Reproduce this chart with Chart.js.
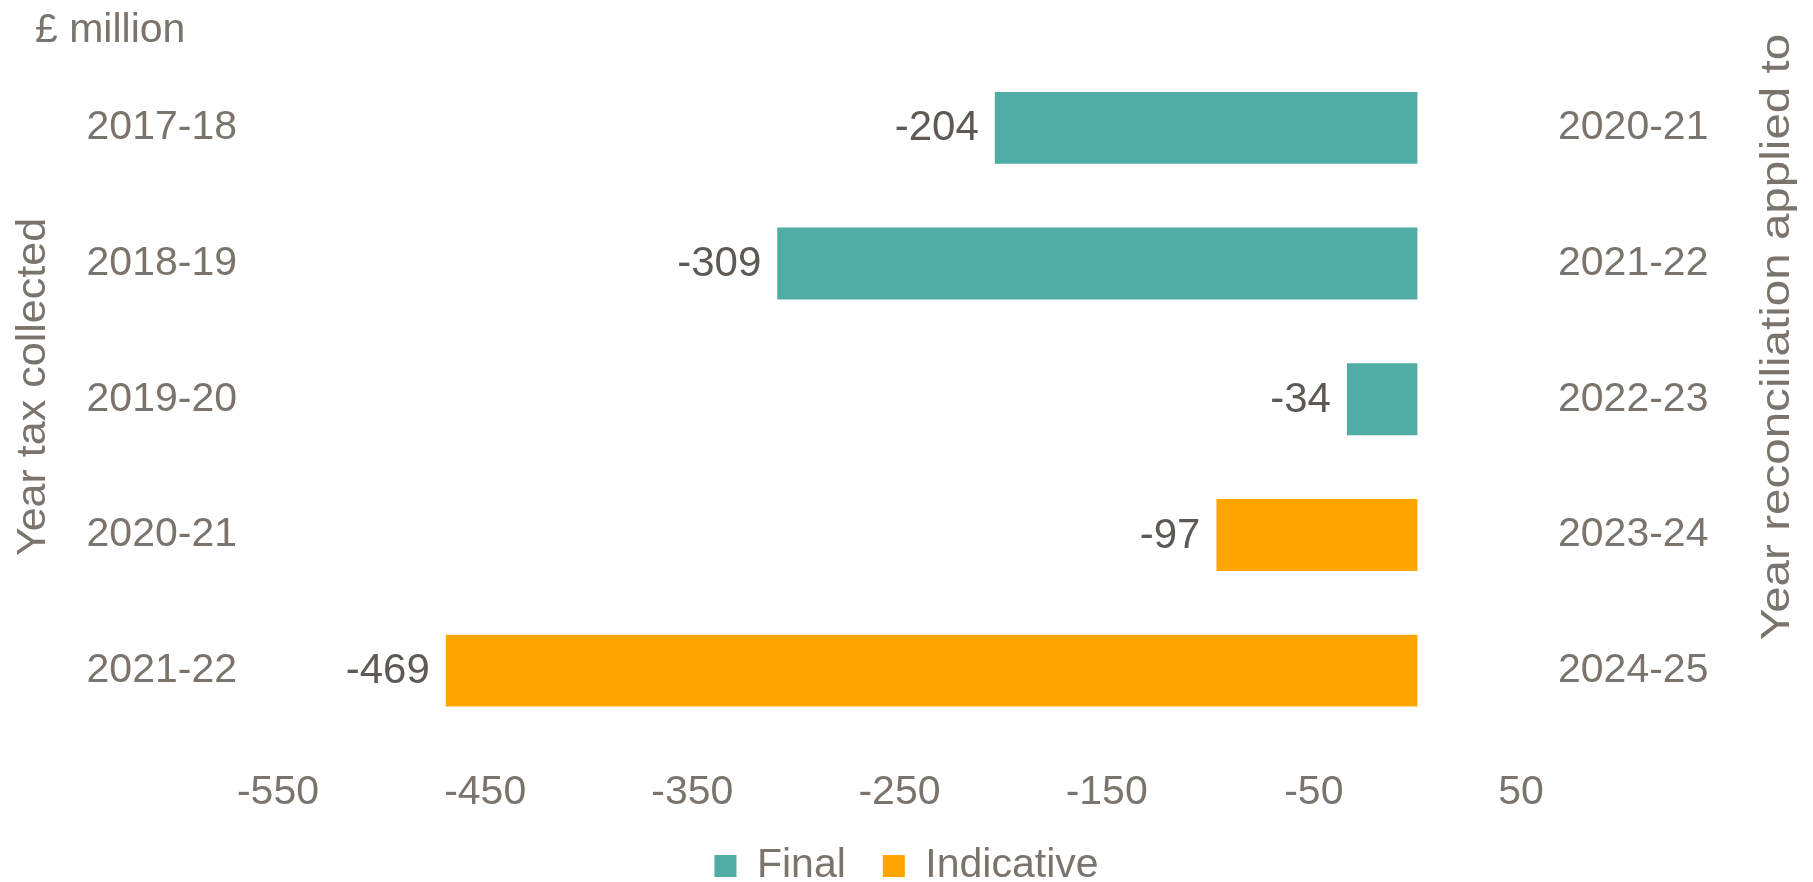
<!DOCTYPE html>
<html>
<head>
<meta charset="utf-8">
<script src="https://cdn.jsdelivr.net/npm/chart.js@4/dist/chart.umd.min.js"></script>
<style>
  html, body { margin: 0; padding: 0; background: #ffffff; }
  #wrap { width: 1813px; height: 882px; position: relative; }
</style>
</head>
<body>
<div id="wrap"><canvas id="c" width="1813" height="882"></canvas></div>
<script>
// ---- data ----
const yearsCollected = ['2017-18', '2018-19', '2019-20', '2020-21', '2021-22'];
const yearsApplied = ['2020-21', '2021-22', '2022-23', '2023-24', '2024-25'];
const finalValues = [-204, -309, -34, null, null];
const indicativeValues = [null, null, null, -97, -469];
const xTickValues = [-550, -450, -350, -250, -150, -50, 50];
const seriesNames = ['Final', 'Indicative'];
const unitLabel = '£ million';
const leftTitle = 'Year tax collected';
const rightTitle = 'Year reconciliation applied to';

// ---- styles ----
const FONT = "'Liberation Sans', Arial, Helvetica, sans-serif";
const TEXT = '#7b746c';
const LABEL = '#5f5954';
const TEAL = '#50ada5';
const ORANGE = '#fea500';
const FS = 41;

const extraText = {
  id: 'extraText',
  afterDraw(chart) {
    const ctx = chart.ctx;
    ctx.save();
    ctx.fillStyle = TEXT;
    ctx.font = FS + 'px ' + FONT;
    ctx.textAlign = 'left';
    ctx.textBaseline = 'alphabetic';
    ctx.fillText(unitLabel, 35, 42);

    ctx.save();
    ctx.translate(45, 387);
    ctx.rotate(-Math.PI / 2);
    ctx.scale(1.05, 1);
    ctx.textAlign = 'center';
    ctx.fillText(leftTitle, 0, 0);
    ctx.restore();

    ctx.save();
    ctx.translate(1789, 337);
    ctx.rotate(-Math.PI / 2);
    ctx.scale(1.16, 1);
    ctx.textAlign = 'center';
    ctx.fillText(rightTitle, 0, 0);
    ctx.restore();

    // value labels
    ctx.fillStyle = LABEL;
    ctx.font = '42px ' + FONT;
    ctx.textAlign = 'right';
    ctx.textBaseline = 'middle';
    chart.data.datasets.forEach((ds, di) => {
      const meta = chart.getDatasetMeta(di);
      meta.data.forEach((bar, i) => {
        const v = ds.data[i];
        if (v === null || v === undefined) return;
        ctx.fillText(String(v), bar.x - 16, bar.y + 1);
      });
    });
    ctx.restore();
  }
};

function noPad(scale) {
  scale.paddingTop = 0; scale.paddingBottom = 0;
  scale.paddingLeft = 0; scale.paddingRight = 0;
}

new Chart(document.getElementById('c'), {
  type: 'bar',
  data: {
    labels: yearsCollected,
    datasets: [
      { label: seriesNames[0], data: finalValues, backgroundColor: TEAL, borderWidth: 0 },
      { label: seriesNames[1], data: indicativeValues, backgroundColor: ORANGE, borderWidth: 0 }
    ]
  },
  options: {
    indexAxis: 'y',
    responsive: false,
    animation: false,
    devicePixelRatio: 1,
    layout: { padding: { top: 60, left: 0, right: 0, bottom: -14.5 } },
    datasets: { bar: { barPercentage: 0.53, categoryPercentage: 1.0 } },
    scales: {
      x: {
        type: 'linear',
        stacked: true,
        min: -550,
        max: 50,
        grid: { display: false, drawTicks: false },
        border: { display: false },
        afterBuildTicks(scale) { scale.ticks = xTickValues.map(v => ({ value: v })); },
        afterFit(scale) { scale.height = 70; noPad(scale); },
        ticks: { color: TEXT, font: { family: FONT, size: FS, lineHeight: 0.9 }, padding: 36, maxRotation: 0, autoSkip: false }
      },
      y: {
        type: 'category',
        stacked: true,
        position: 'left',
        grid: { display: false, drawTicks: false },
        border: { display: false },
        afterFit(scale) { scale.width = 278; noPad(scale); },
        ticks: { color: TEXT, font: { family: FONT, size: FS }, padding: 41 }
      },
      y2: {
        type: 'category',
        labels: yearsApplied,
        position: 'right',
        offset: true,
        grid: { display: false, drawTicks: false },
        border: { display: false },
        afterFit(scale) { scale.width = 292; noPad(scale); },
        ticks: { color: TEXT, font: { family: FONT, size: FS }, padding: 37 }
      }
    },
    plugins: {
      legend: {
        position: 'bottom',
        labels: {
          color: TEXT,
          font: { family: FONT, size: FS },
          boxWidth: 22,
          boxHeight: 22,
          padding: 37
        }
      },
      tooltip: { enabled: false }
    }
  },
  plugins: [extraText]
});
</script>
</body>
</html>
